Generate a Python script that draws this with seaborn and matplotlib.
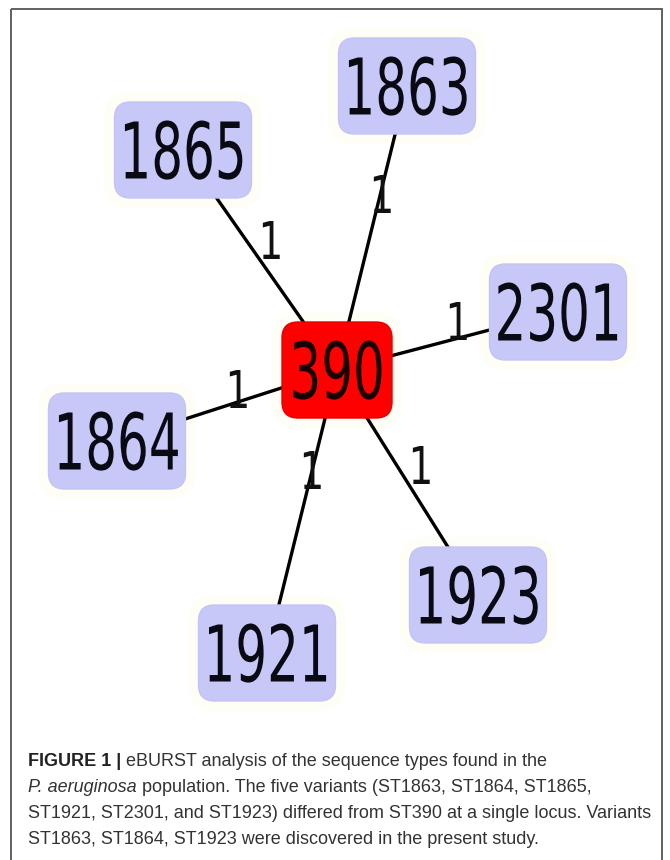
import numpy as np
import pandas as pd
import matplotlib
matplotlib.use("Agg")
import matplotlib.pyplot as plt
import seaborn as sns
from matplotlib.patches import FancyBboxPatch, Rectangle
from matplotlib import patheffects as pe
from matplotlib.transforms import Affine2D

# ---------------- data ----------------
node_names = ["390", "1863", "1865", "2301", "1864", "1923", "1921"]
node_x = [337, 407, 183, 558, 117, 478, 267]
node_y = [370, 86, 150, 312, 441, 595, 653]
central_node = "390"
# single-locus variant links (from central ST390)
link_targets = ["1863", "1865", "2301", "1864", "1923", "1921"]
link_diff = [1, 1, 1, 1, 1, 1]
# where the link labels sit
link_label_x = [382, 271, 458, 238, 421, 312]
link_label_y = [194, 240, 321, 389, 465, 470]

caption_lines = [
    [("FIGURE 1 |", "bold", "normal"),
     (" eBURST analysis of the sequence types found in the", "normal", "normal")],
    [("P. aeruginosa", "normal", "italic"),
     (" population. The five variants (ST1863, ST1864, ST1865,", "normal", "normal")],
    [("ST1921, ST2301, and ST1923) differed from ST390 at a single locus. Variants", "normal", "normal")],
    [("ST1863, ST1864, ST1923 were discovered in the present study.", "normal", "normal")],
]
caption_y = [762, 788, 814, 840]

# ---------------- style ----------------
sns.set_theme(style="white")
plt.rcParams["font.family"] = ["DejaVu Sans"]

W, H = 670, 860
fig = plt.figure(figsize=(W / 100, H / 100), dpi=100)
ax = fig.add_axes([0, 0, 1, 1])


class VStretch(pe.AbstractPathEffect):
    """Stretch glyphs vertically around a data point (text stays text)."""
    def __init__(self, axes, xy, s):
        super().__init__()
        self.axes_, self.xy, self.s = axes, xy, s

    def draw_path(self, renderer, gc, tpath, affine, rgbFace=None):
        cx, cy = self.axes_.transData.transform(self.xy)
        t = affine + Affine2D().translate(-cx, -cy).scale(1, self.s).translate(cx, cy)
        renderer.draw_path(gc, tpath, t, rgbFace)


pos = {n: (x, y) for n, x, y in zip(node_names, node_x, node_y)}

# edges
rows = []
for i, tgt in enumerate(link_targets):
    for n in (central_node, tgt):
        rows.append({"x": pos[n][0], "y": pos[n][1], "edge": i})
edges = pd.DataFrame(rows)
sns.lineplot(data=edges, x="x", y="y", units="edge", estimator=None, sort=False,
             color="black", lw=2.4, ax=ax, legend=False, zorder=2)

# node boxes
r = 16
for n, x, y in zip(node_names, node_x, node_y):
    w = 110 if n == central_node else 137
    h = 96
    fc = "#ff0000" if n == central_node else "#c8c8f8"
    halo = FancyBboxPatch((x - w / 2 + r, y - h / 2 + r), w - 2 * r, h - 2 * r,
                          boxstyle=f"round,pad={r + 10},rounding_size={r + 10}",
                          fc="#fefef7", ec="none", zorder=1)
    ax.add_patch(halo)
    box = FancyBboxPatch((x - w / 2 + r, y - h / 2 + r), w - 2 * r, h - 2 * r,
                         boxstyle=f"round,pad={r},rounding_size={r}",
                         fc=fc, ec=("#e60000" if n == central_node else "#c4c4f4"),
                         lw=1.0, zorder=3)
    ax.add_patch(box)
    fs = 36
    h0 = 0.729 * fs * 100 / 72
    ax.text(x, y + h0 / 2, n, ha="center", va="baseline", fontsize=fs,
            color=("#1a0000" if n == central_node else "#0a0a14"), zorder=4,
            family="DejaVu Sans",
            path_effects=[VStretch(ax, (x, y), 57 / h0)])

# link labels
for d, lx, ly in zip(link_diff, link_label_x, link_label_y):
    fs = 28
    h0 = 0.729 * fs * 100 / 72
    ax.text(lx, ly + h0 / 2, str(d), ha="center", va="baseline", fontsize=fs,
            color="#111111", zorder=2.5, family="DejaVu Sans",
            path_effects=[VStretch(ax, (lx, ly), 38 / h0)])

# frame
ax.add_patch(Rectangle((11, 9), 651, 900, fill=False, ec="#555555", lw=1.3,
                       zorder=5, clip_on=False))

# caption
cap_fs = 13.0
for parts, cy in zip(caption_lines, caption_y):
    prev = None
    for txt, wt, st in parts:
        col = "#222222" if wt == "bold" else "#333333"
        if prev is None:
            prev = ax.text(28, cy, txt, ha="left", va="center", fontsize=cap_fs,
                           fontweight=wt, fontstyle=st, color=col,
                           family="Liberation Sans")
        else:
            prev = ax.annotate(txt, xy=(1, 0.5), xycoords=prev, ha="left",
                               va="center", fontsize=cap_fs, fontweight=wt,
                               fontstyle=st, color=col, family="Liberation Sans")

ax.set_xlim(0, W)
ax.set_ylim(H, 0)
ax.axis("off")
fig.savefig("out.png", dpi=100, facecolor="white")
